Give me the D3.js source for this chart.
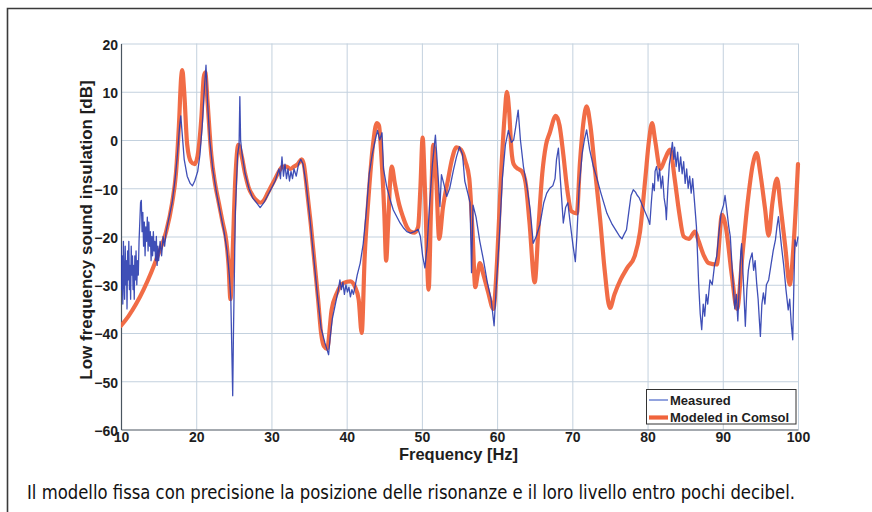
<!DOCTYPE html>
<html>
<head>
<meta charset="utf-8">
<script src="https://cdn.jsdelivr.net/npm/d3@7"></script>
<style>
  html, body { margin: 0; padding: 0; background: #ffffff; }
  svg { display: block; }
</style>
</head>
<body>
<svg id="chart" width="872" height="512"></svg>
<script>
// ---------------- DATA ----------------
const xTicks = [10, 20, 30, 40, 50, 60, 70, 80, 90, 100];
const yTicks = [20, 10, 0, -10, -20, -30, -40, -50, -60];
const seriesNames = ["Measured", "Modeled in Comsol"];
const xLabel = "Frequency [Hz]";
const yLabel = "Low frequency sound insulation [dB]";
const caption = "Il modello fissa con precisione la posizione delle risonanze e il loro livello entro pochi decibel.";

// Modeled in Comsol (frequency in Hz, level in dB)
const modeledHz = [10.0, 11.0, 12.0, 13.0, 14.0, 15.0, 16.0, 16.8, 17.3, 17.7, 18.0, 18.15, 18.4, 18.8, 19.3, 19.8, 20.3, 20.7, 21.0, 21.2, 21.5, 22.0, 22.5, 23.0, 23.5, 24.0, 24.3, 24.55, 24.8, 25.2, 25.6, 26.0, 26.5, 27.0, 27.5, 28.0, 28.5, 29.0, 29.5, 30.0, 30.5, 31.0, 31.5, 32.0, 32.5, 33.0, 33.5, 34.0, 34.3, 34.7, 35.2, 35.7, 36.2, 36.6, 37.0, 37.4, 38.0, 38.7, 39.6, 40.5, 41.1, 41.6, 42.0, 42.4, 42.9, 43.5, 44.0, 44.3, 44.6, 45.0, 45.25, 45.5, 45.8, 46.0, 46.4, 47.0, 47.5, 48.0, 48.5, 49.0, 49.5, 49.8, 50.1, 50.4, 50.9, 51.2, 51.5, 51.9, 52.3, 52.8, 53.5, 54.0, 54.6, 55.2, 55.8, 56.3, 56.7, 57.1, 57.4, 57.7, 58.2, 58.8, 59.5, 60.0, 60.5, 61.0, 61.3, 61.6, 61.9, 62.2, 62.8, 63.3, 63.8, 64.3, 65.0, 65.5, 66.0, 66.5, 67.0, 67.8, 68.3, 68.8, 69.3, 69.9, 70.6, 71.0, 71.5, 71.9, 72.4, 73.0, 73.7, 74.3, 75.0, 75.6, 76.4, 77.3, 78.3, 79.0, 79.7, 80.2, 80.6, 81.0, 81.7, 82.3, 83.0, 83.6, 84.2, 84.8, 85.5, 86.3, 86.8, 87.5, 88.1, 89.2, 89.9, 90.4, 91.2, 91.9, 92.6, 93.3, 94.0, 94.5, 95.0, 95.6, 96.1, 96.6, 97.2, 97.7, 98.3, 98.9, 99.4, 100.0];
const modeledDb = [-38.5, -36.5, -34, -31, -27.5, -23.5, -19, -13, -7, 3, 13, 14.5, 10, -1, -4.5, -5, -2, 5, 13, 14, 8, -3, -9, -13, -17, -21, -26, -33, -25, -8, -1, -3, -7, -10, -11.5, -12.5, -13, -12.5, -11, -9.5, -8, -6.5, -5.5, -5.5, -6, -5.5, -5, -4, -5, -10, -17, -25, -33, -40, -42.8, -43.3, -35.2, -31.7, -29.6, -29.3, -30.4, -33.1, -40, -24, -12, -1, 3.5, 3, -3, -15, -25, -18, -8, -5.5, -9, -13.5, -16, -18, -19, -19.2, -18, -10, 0.5, -10, -31, -15, -1, -8, -20.5, -14, -8, -4, -1.5, -2, -4.5, -8, -18, -30.5, -28, -25.5, -28, -31.5, -35, -25, -8, 5, 10, 6, -2, -5, -6, -6.5, -9, -17, -29.5, -18, -7, -1, 1.5, 5, 3, -3, -10, -14.8, -15.2, -5, 4, 7, 3, -6, -16.5, -27, -34.8, -32, -29, -26.5, -24, -19, -8, 0, 3.5, 0, -6, -4, -2, -8, -15, -20, -20.5, -19, -21, -24, -25.5, -25.8, -15.5, -18, -28, -35, -24, -13, -5, -2.7, -7, -14, -19.8, -13, -8, -14, -22, -30, -22, -5];

// Measured (frequency in Hz, level in dB)
const measuredHz = [10.0, 10.08, 10.16, 10.24, 10.32, 10.4, 10.48, 10.56, 10.64, 10.72, 10.8, 10.88, 10.96, 11.04, 11.12, 11.2, 11.28, 11.36, 11.44, 11.52, 11.6, 11.68, 11.76, 11.84, 11.92, 12.0, 12.1, 12.2, 12.3, 12.4, 12.5, 12.6, 12.7, 12.8, 12.9, 13.0, 13.1, 13.2, 13.3, 13.4, 13.5, 13.6, 13.7, 13.8, 13.9, 14.0, 14.1, 14.2, 14.3, 14.4, 14.5, 14.6, 14.7, 14.8, 14.9, 15.0, 15.2, 15.4, 15.6, 15.8, 16.0, 16.4, 16.8, 17.2, 17.5, 17.8, 17.95, 18.1, 18.4, 18.8, 19.2, 19.5, 19.8, 20.2, 20.5, 20.8, 21.1, 21.3, 21.5, 21.8, 22.2, 22.7, 23.2, 23.7, 24.1, 24.4, 24.6, 24.75, 24.85, 24.95, 25.2, 25.5, 25.7, 25.8, 25.9, 26.1, 26.5, 27.0, 27.5, 28.0, 28.5, 29.0, 29.5, 30.0, 30.5, 30.8, 31.0, 31.2, 31.4, 31.6, 31.8, 32.0, 32.2, 32.4, 32.6, 32.8, 33.0, 33.3, 33.6, 33.9, 34.2, 34.6, 35.1, 35.6, 36.1, 36.6, 37.1, 37.4, 37.6, 37.8, 38.1, 38.5, 38.9, 39.1, 39.3, 39.5, 39.7, 39.9, 40.1, 40.3, 40.5, 40.7, 40.9, 41.1, 41.4, 41.8, 42.2, 42.6, 43.0, 43.4, 43.8, 44.1, 44.4, 44.7, 44.9, 45.3, 45.8, 46.2, 46.7, 47.1, 47.6, 48.0, 48.5, 49.0, 49.5, 49.8, 50.1, 50.4, 50.7, 51.0, 51.4, 51.8, 52.1, 52.4, 52.6, 52.9, 53.3, 53.7, 54.2, 54.6, 55.0, 55.4, 55.7, 56.1, 56.4, 56.6, 56.8, 57.2, 57.7, 58.2, 58.7, 59.2, 59.6, 59.9, 60.3, 60.7, 61.1, 61.5, 61.9, 62.2, 62.5, 62.8, 63.1, 63.5, 64.0, 64.4, 64.8, 65.2, 65.7, 66.2, 66.6, 67.0, 67.4, 67.7, 67.9, 68.15, 68.4, 68.8, 69.1, 69.4, 69.7, 70.1, 70.4, 70.6, 70.9, 71.3, 71.6, 71.9, 72.3, 72.8, 73.2, 73.8, 74.6, 75.3, 75.9, 76.3, 76.6, 76.9, 77.2, 77.5, 77.8, 78.1, 78.4, 78.6, 78.9, 79.3, 79.7, 80.1, 80.3, 80.5, 80.7, 80.9, 81.0, 81.2, 81.4, 81.6, 81.8, 82.0, 82.2, 82.4, 82.5, 82.7, 82.9, 83.1, 83.3, 83.5, 83.6, 83.8, 84.0, 84.2, 84.4, 84.6, 84.8, 85.0, 85.2, 85.4, 85.6, 85.8, 86.0, 86.2, 86.5, 86.8, 87.0, 87.2, 87.4, 87.6, 87.8, 88.0, 88.3, 88.6, 88.9, 89.2, 89.5, 89.8, 90.1, 90.3, 90.5, 90.8, 91.0, 91.3, 91.6, 91.8, 92.0, 92.2, 92.4, 92.5, 92.7, 92.9, 93.0, 93.2, 93.4, 93.6, 93.9, 94.1, 94.3, 94.5, 94.7, 94.85, 95.0, 95.2, 95.4, 95.6, 95.8, 96.1, 96.4, 96.7, 97.0, 97.2, 97.4, 97.6, 97.8, 98.1, 98.4, 98.7, 98.9, 99.1, 99.3, 99.45, 99.6, 99.8, 100.0];
const measuredDb = [-22, -31, -24, -34, -21, -29, -33, -22, -30, -25, -35, -23, -29, -21, -31, -26, -33, -22, -28, -24, -31, -26, -33, -24, -29, -23, -30, -25, -28, -21, -17, -13, -12.5, -19, -15, -22, -17, -24, -18, -21, -16, -23, -17, -22, -19, -25, -20, -24, -19, -23, -21, -25, -20, -26, -22, -25, -21, -24, -20, -22, -19, -16, -13, -8, -3, 3, 5, 2, -4, -7.5, -9, -9.5, -8.5, -6.5, -3, 3, 11, 15.5, 8, 0, -6, -11, -15, -19, -23, -28, -33, -45, -53, -40, -15, -3, -1, 9, 0, -3, -7, -10, -12, -13, -14, -13, -11.5, -10, -8.5, -7, -6, -8, -3.5, -7.5, -5, -8, -6, -8.5, -6.5, -8, -6, -7.5, -5, -4, -5, -9, -16, -24, -32, -39, -42, -43.5, -44.5, -41, -37, -34, -31, -29, -31, -29.5, -32, -30, -31.5, -30.5, -32.5, -31, -32, -30.5, -28, -25.5, -21.5, -15, -7, -3, 0, 2, 0, 1.5, -6, -9.5, -12.5, -14.5, -16, -17.2, -18.3, -19, -19.3, -19, -18.5, -20, -24, -26.5, -22, -14, -5, 1, -6, -13.8, -7.2, -9, -11.7, -10, -6.2, -3.5, -1.4, -3, -8.5, -11, -13, -27.5, -13.5, -16, -21, -25, -29.5, -33, -38.5, -30, -20, -8, -1, 2, -0.5, 0, 3, 6.2, 0, -5.5, -10, -14.5, -21.4, -20, -17.5, -13, -11, -10, -9.5, -8, -4, -1.7, -8, -17.2, -14, -13, -17, -22, -25.2, -20, -10, -3, 0, 2.1, -2, -5.5, -7.6, -11, -15.2, -17.5, -19, -20, -20.5, -19.5, -18.6, -15, -11.5, -10.3, -10.8, -11.4, -12, -13.5, -15, -16.5, -17.5, -13, -9, -10.5, -6.5, -5.5, -8.5, -6, -10, -7.5, -12, -14, -16.5, -10, -5, -3, -0.5, -4, -1.5, -5.5, -2.5, -6.5, -3.5, -7, -4.5, -9, -6, -10, -7.5, -11, -8, -12, -18, -30, -36, -39.3, -34, -36.5, -32, -34, -29, -30, -26, -24, -19, -15, -13.5, -11.5, -14, -18, -20, -28, -35, -32, -37.5, -30, -23, -21.5, -28, -35, -38.6, -31, -27, -25, -23.4, -27, -25, -29.6, -33, -37, -40.7, -34, -31.7, -34, -30, -29, -26, -23, -20.7, -18, -15.9, -19, -22, -26, -31, -35.2, -33, -38, -41.4, -30, -20.7, -22, -20];

// ---------------- CHART ----------------
const svg = d3.select("#chart");
const W = 872, H = 512;
const plot = { left: 121, right: 798, top: 43.5, bottom: 429.5 };

const x = d3.scaleLinear().domain([10, 100]).range([plot.left, plot.right]);
const y = d3.scaleLinear().domain([-60, 20]).range([plot.bottom, plot.top]);

svg.append("rect").attr("width", W).attr("height", H).attr("fill", "#ffffff");

// outer frame (left + top)
svg.append("path")
  .attr("d", `M7.5,${H} L7.5,8.5 L${W},8.5`)
  .attr("fill", "none").attr("stroke", "#3a3a3a").attr("stroke-width", 1.6);

// grid via axes
const gridX = svg.append("g")
  .attr("transform", `translate(0,${plot.bottom})`)
  .call(d3.axisBottom(x).tickValues(xTicks.slice(1)).tickSize(-(plot.bottom - plot.top)).tickFormat(""));
gridX.select(".domain").remove();
gridX.selectAll("line").attr("stroke", "#c3d1de").attr("stroke-width", 1);

const gridY = svg.append("g")
  .attr("transform", `translate(${plot.left},0)`)
  .call(d3.axisLeft(y).tickValues(yTicks.slice(0, -1)).tickSize(-(plot.right - plot.left)).tickFormat(""));
gridY.select(".domain").remove();
gridY.selectAll("line").attr("stroke", "#c3d1de").attr("stroke-width", 1);

// axes with labels
const fontFam = "'Liberation Sans', Arial, Helvetica, sans-serif";
const axB = svg.append("g")
  .attr("transform", `translate(0,${plot.bottom})`)
  .call(d3.axisBottom(x).tickValues(xTicks).tickSize(0).tickPadding(3).tickFormat(d3.format("d")));
axB.select(".domain").attr("stroke", "#4a5560").attr("stroke-width", 1.2);
axB.selectAll("text").attr("font-family", fontFam).attr("font-size", 14).attr("font-weight", "bold").attr("fill", "#1e1e1e");

const axL = svg.append("g")
  .attr("transform", `translate(${plot.left},0)`)
  .call(d3.axisLeft(y).tickValues(yTicks).tickSize(0).tickPadding(3).tickFormat(d3.format("d")));
axL.select(".domain").attr("stroke", "#4a5560").attr("stroke-width", 1.2);
axL.selectAll("text").attr("font-family", fontFam).attr("font-size", 14).attr("font-weight", "bold").attr("fill", "#1e1e1e").attr("dy", "0.42em");

// clip
svg.append("clipPath").attr("id", "clip")
  .append("rect").attr("x", plot.left).attr("y", plot.top - 2)
  .attr("width", plot.right - plot.left + 3).attr("height", plot.bottom - plot.top + 2);

const modeled = modeledHz.map((f, i) => [f, modeledDb[i]]);
const measured = measuredHz.map((f, i) => [f, measuredDb[i]]);

const lineSmooth = d3.line().x(d => x(d[0])).y(d => y(d[1])).curve(d3.curveMonotoneX);
const lineRaw = d3.line().x(d => x(d[0])).y(d => y(d[1]));

const gLines = svg.append("g").attr("clip-path", "url(#clip)");
gLines.append("path").datum(modeled)
  .attr("d", lineSmooth).attr("fill", "none")
  .attr("stroke", "#f0643c").attr("stroke-width", 4.2)
  .attr("stroke-linejoin", "round").attr("stroke-linecap", "round").attr("opacity", 0.95);
gLines.append("path").datum(measured)
  .attr("d", lineRaw).attr("fill", "none")
  .attr("stroke", "#2a3caf").attr("stroke-width", 1.3)
  .attr("stroke-linejoin", "round").attr("opacity", 0.9);

// legend
const lg = svg.append("g");
lg.append("rect").attr("x", 646.5).attr("y", 389.5).attr("width", 149.5).attr("height", 34.5)
  .attr("fill", "#ffffff").attr("stroke", "#333333").attr("stroke-width", 1);
lg.append("line").attr("x1", 649).attr("x2", 668).attr("y1", 400).attr("y2", 400)
  .attr("stroke", "#4a66c8").attr("stroke-width", 1.2);
lg.append("line").attr("x1", 649).attr("x2", 668).attr("y1", 417.5).attr("y2", 417.5)
  .attr("stroke", "#f0643c").attr("stroke-width", 4.2);
lg.append("text").attr("x", 670).attr("y", 404.5).text(seriesNames[0])
  .attr("font-family", fontFam).attr("font-size", 13).attr("font-weight", "bold").attr("fill", "#1e1e1e");
lg.append("text").attr("x", 670).attr("y", 422).text(seriesNames[1])
  .attr("font-family", fontFam).attr("font-size", 13).attr("font-weight", "bold").attr("fill", "#1e1e1e");

// axis titles
svg.append("text").attr("x", (plot.left + plot.right) / 2 - 1).attr("y", 460)
  .attr("text-anchor", "middle").text(xLabel)
  .attr("font-family", fontFam).attr("font-size", 16.5).attr("font-weight", "bold").attr("fill", "#1e1e1e");
svg.append("text").attr("transform", `translate(92,230) rotate(-90)`)
  .attr("text-anchor", "middle").text(yLabel)
  .attr("font-family", fontFam).attr("font-size", 17).attr("font-weight", "bold").attr("fill", "#1e1e1e");

// caption
svg.append("text").attr("x", 27).attr("y", 499).text(caption)
  .attr("font-family", "'DejaVu Sans Condensed', 'Liberation Sans Narrow', 'Roboto Condensed', 'Liberation Sans', sans-serif")
  .attr("font-size", 20).attr("fill", "#111111")
  .attr("textLength", 768).attr("lengthAdjust", "spacingAndGlyphs");
</script>
</body>
</html>
